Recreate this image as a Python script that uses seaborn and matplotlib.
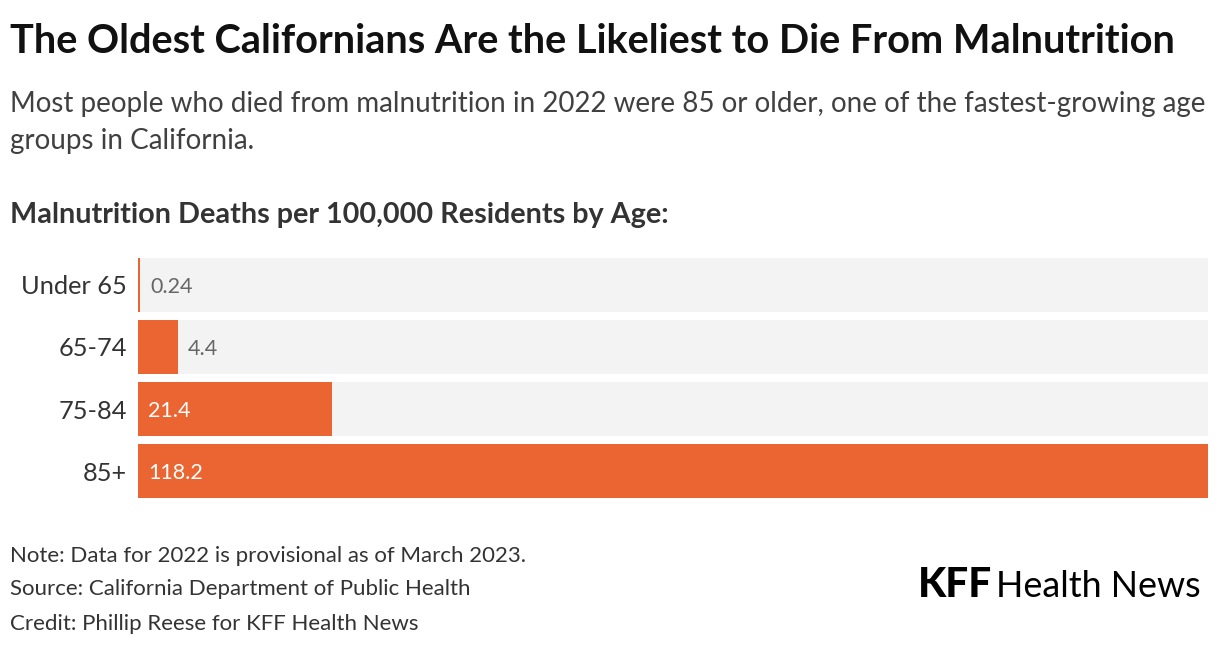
import matplotlib
matplotlib.use('Agg')
import matplotlib.pyplot as plt
import seaborn as sns
import pandas as pd

# chart data
ages = ['Under 65', '65-74', '75-84', '85+']
rates = [0.24, 4.4, 21.4, 118.2]
rate_labels = ['0.24', '4.4', '21.4', '118.2']

title = 'The Oldest Californians Are the Likeliest to Die From Malnutrition'
subtitle_1 = 'Most people who died from malnutrition in 2022 were 85 or older, one of the fastest-growing age'
subtitle_2 = 'groups in California.'
heading = 'Malnutrition Deaths per 100,000 Residents by Age:'
notes = ['Note: Data for 2022 is provisional as of March 2023.',
         'Source: California Department of Public Health',
         'Credit: Phillip Reese for KFF Health News']

ORANGE = '#ea6531'
TRACK = '#f3f3f3'
FONT = 'Lato'

sns.set_theme(style='white')
plt.rcParams['font.family'] = [FONT, 'DejaVu Sans']

W, H = 1220, 650
fig = plt.figure(figsize=(W / 100, H / 100), dpi=100)
fig.patch.set_facecolor('white')


def fy(px):
    return 1 - px / H


def fx(px):
    return px / W


ax = fig.add_axes([fx(138), fy(498), fx(1070), 240 / H])

df = pd.DataFrame({'age': ages, 'rate': rates})
df['track'] = df['rate'].max()

sns.barplot(data=df, x='track', y='age', color=TRACK, saturation=1,
            width=0.87, linewidth=0, ax=ax, orient='h')
sns.barplot(data=df, x='rate', y='age', color=ORANGE, saturation=1,
            width=0.87, linewidth=0, ax=ax, orient='h')

ax.set_xlim(0, df['rate'].max())
ax.set_ylim(len(ages) - 1 + 0.435, -0.435)
ax.set_xlabel('')
ax.set_ylabel('')
ax.set_xticks([])
for s in ax.spines.values():
    s.set_visible(False)
ax.tick_params(axis='y', length=0, pad=8, labelsize=18.3, labelcolor='#333333')

# value labels: inside the bar when it is long enough, else after the bar end
for i, (v, lab) in enumerate(zip(rates, rate_labels)):
    if v > 10:
        ax.annotate(lab, xy=(0, i), xytext=(7.5, 0), textcoords='offset points',
                    va='center_baseline', ha='left', fontsize=15.5, color='white')
    else:
        ax.annotate(lab, xy=(v, i), xytext=(7, 0), textcoords='offset points',
                    va='center_baseline', ha='left', fontsize=15.5, color='#666666')

# header texts
t_title = fig.text(fx(10), fy(53), title, fontsize=28, fontweight='bold',
                   color='#111111', va='baseline')
t_sub1 = fig.text(fx(10), fy(112), subtitle_1, fontsize=20, color='#404040', va='baseline')
t_sub2 = fig.text(fx(10), fy(149), subtitle_2, fontsize=20, color='#404040', va='baseline')
t_head = fig.text(fx(10), fy(223), heading, fontsize=20, fontweight='bold',
                  color='#333333', va='baseline')

t_notes = []
for y, line in zip([562, 595, 630], notes):
    t_notes.append(fig.text(fx(10), fy(y), line, fontsize=15, color='#333333', va='baseline'))

# logo
t_kff = fig.text(fx(918), fy(597), 'KFF', fontsize=22, fontweight='black',
                 color='black', va='baseline')
t_hn = fig.text(fx(996), fy(597), 'Health News', fontsize=22, fontweight='normal',
                color='black', va='baseline')

fig.canvas.draw()
renderer = fig.canvas.get_renderer()


def fit(txt, target):
    bb = txt.get_window_extent(renderer)
    size = txt.get_fontsize() * target / bb.width
    txt.set_fontsize(size)
    return size


fit(t_title, 1168)
s = fit(t_sub1, 1195)
t_sub2.set_fontsize(s)
fit(t_head, 658)
s = fit(t_notes[0], 517)
for t in t_notes[1:]:
    t.set_fontsize(s)
fit(t_kff, 74)
fit(t_hn, 204)

fig.savefig('out.png', dpi=100, facecolor='white')
